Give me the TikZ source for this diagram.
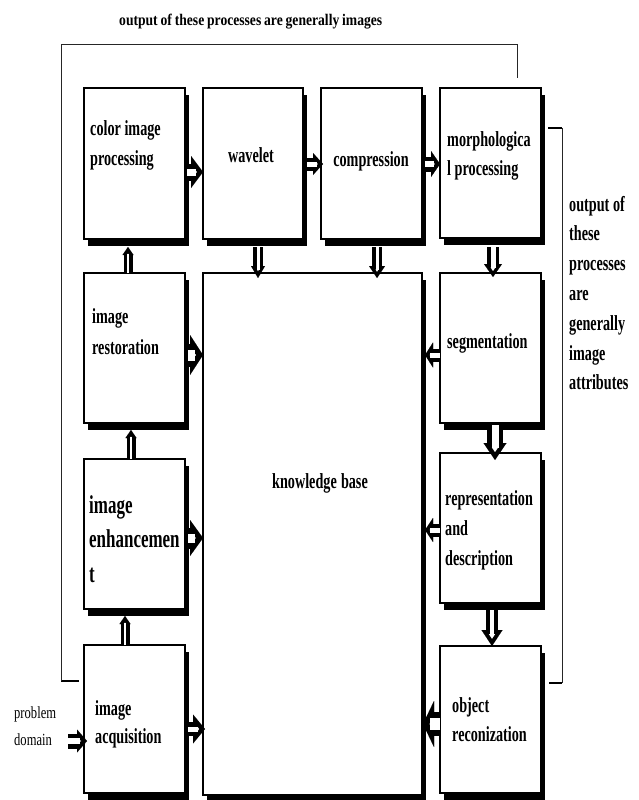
\documentclass[tikz,border=0pt]{standalone}
\usepackage{fontspec}
\setmainfont{Liberation Serif}
\newfontfamily\cnd[FakeStretch=0.66,WordSpace=0.66]{Liberation Serif}
\newfontfamily\cndtop[FakeStretch=0.84,WordSpace=0.84]{Liberation Serif}
\newfontfamily\cndreg[FakeStretch=0.74,WordSpace=0.74]{Liberation Serif}
\usetikzlibrary{arrows.meta,shadows,calc}

% block arrow: #1 shaft width, #2 head width, #3 head length, #4 border, #5 from, #6 to
\newcommand\blockarr[6]{%
  \pgfmathsetmacro\bkA{atan2(#2/2,#3)}%
  \pgfmathsetmacro\bkD{#4/sin(\bkA)}%
  \pgfmathsetmacro\bkL{max(#3-#4-\bkD,0.6)}%
  \pgfmathsetmacro\bkW{#2*\bkL/#3}%
  \pgfmathsetmacro\bkS{#1-2*#4}%
  \draw[black, line width=#1pt, -{Triangle[length=#3pt,width=#2pt,line width=0.01pt]}] #5 -- #6;
  \draw[white, line width=\bkS pt, shorten >=\bkD pt, -{Triangle[length=\bkL pt,width=\bkW pt,line width=0.01pt]}] #5 -- #6;
}

\begin{document}
\begin{tikzpicture}[x=1pt,y=-1pt,
  box/.style={draw=black, line width=1.3pt, fill=white, inner sep=0pt, outer sep=0pt,
    anchor=north west, drop shadow={shadow xshift=4pt, shadow yshift=-7pt, fill=black, opacity=1, draw=none}},
  txt/.style={font=\cnd\fontsize{21.5}{30}\selectfont\bfseries, inner sep=0pt, text width=112pt, anchor=base west,
    execute at begin node={\spaceskip=3.6pt\relax}},
  ctxt/.style={font=\cnd\fontsize{21.5}{30}\selectfont\bfseries, inner sep=0pt, anchor=base,
    execute at begin node={\spaceskip=4.2pt\relax}},
  fb/.style={draw=black!85, line width=1pt},
  stub/.style={draw=black, line width=2.2pt}]

\useasboundingbox (0,0) rectangle (638,800);
\fill[white] (0,0) rectangle (638,800);

% feedback lines
\coordinate (fbA) at (79,681);
\coordinate (fbZ) at (517,78);
\draw[stub] (fbA) -- (61,681);
\draw[fb] (61,681) -- (61,45) -- (517,45) -- (fbZ);
\coordinate (brA) at (548,128);
\coordinate (brZ) at (549,683);
\draw[stub] (brA) -- (562,128);
\draw[stub] (562,683) -- (brZ);
\draw[fb] (562,128) -- (562,683);

% boxes
\node[box, minimum width=101pt, minimum height=151pt] (cip) at (84,88) {};
\node[box, minimum width=100pt, minimum height=151pt] (wav) at (203,88) {};
\node[box, minimum width=101pt, minimum height=151pt] (cmp) at (321,88) {};
\node[box, minimum width=101pt, minimum height=150pt] (mor) at (440,88) {};
\node[box, minimum width=101pt, minimum height=150pt] (res) at (84,273) {};
\node[box, minimum width=219pt, minimum height=522pt] (kb) at (203,273) {};
\node[box, minimum width=101pt, minimum height=150pt] (seg) at (440,273) {};
\node[box, minimum width=101pt, minimum height=150pt] (enh) at (84,459) {};
\node[box, minimum width=101pt, minimum height=150pt] (rep) at (440,453) {};
\node[box, minimum width=101pt, minimum height=148pt] (acq) at (84,645) {};
\node[box, minimum width=101pt, minimum height=147pt] (obj) at (440,646) {};

% arrows
\blockarr{17}{32}{12}{5}{($(cip.east)+(2,8.5)$)}{($(wav.west)+(0,8.5)$)}
\blockarr{13}{22}{10}{4}{($(wav.east)+(4,0.5)$)}{($(cmp.west)+(2,0.5)$)}
\blockarr{15}{26}{9}{4.5}{($(cmp.east)+(3,0.5)$)}{($(mor.west)+(0,1)$)}
\blockarr{23}{40}{13}{6}{($(res.east)+(3,7)$)}{($(kb.west)+(0,-179)$)}
\blockarr{21}{36}{13}{6}{($(enh.east)+(3,4)$)}{($(kb.west)+(0,4)$)}
\blockarr{14}{29}{12}{4.5}{($(acq.east)+(3,10)$)}{($(kb.west)+(2,195)$)}
\coordinate (pd) at (68,741);
\blockarr{15}{23}{10}{4.5}{(pd)}{($(acq.west)+(3,22)$)}
\blockarr{13}{25}{8}{4}{($(seg.west)+(0,7)$)}{($(kb.east)+(3,-179)$)}
\blockarr{13}{24}{8}{4}{($(rep.west)+(0,2)$)}{($(kb.east)+(3,-4)$)}
\blockarr{24}{46}{11}{6}{($(obj.west)+(0,4.5)$)}{($(kb.east)+(1,190)$)}
\blockarr{10}{14}{12}{3.5}{($(wav.south)+(5,8)$)}{($(kb.north)+(-54.5,5)$)}
\blockarr{10}{16}{12}{3.5}{($(cmp.south)+(5.5,8)$)}{($(kb.north)+(64.5,5)$)}
\blockarr{12}{18}{13}{3.5}{($(mor.south)+(2.5,9)$)}{($(seg.north)+(2.5,4)$)}
\blockarr{16}{23}{17}{4.5}{($(seg.south)+(4.5,2)$)}{($(rep.north)+(4.5,7)$)}
\blockarr{12}{21}{16}{4}{($(rep.south)+(1.5,7)$)}{($(obj.north)+(1.5,0)$)}
\blockarr{9}{11}{8}{3.8}{($(res.north)+(-6.5,0)$)}{($(cip.south)+(-6.5,8)$)}
\blockarr{9}{11}{8}{3.8}{($(enh.north)+(-3.5,0)$)}{($(res.south)+(-3.5,7)$)}
\blockarr{9}{11}{8}{3.8}{($(acq.north)+(-9.5,0)$)}{($(enh.south)+(-9.5,7)$)}

% texts
\node[anchor=base west, inner sep=0pt, font=\cndtop\fontsize{16.2}{18}\selectfont\bfseries] (toplab) at (119,26) {output of these processes are generally images};
\node[txt] (tcip) at (90,135) {color image\\processing};
\node[ctxt] (twav) at (251,162) {wavelet};
\node[ctxt] (tcmp) at (371,166) {compression};
\node[txt, font=\cnd\fontsize{21.5}{29}\selectfont\bfseries] (tmor) at (447,146) {morphologica\\l processing};
\node[txt, font=\cnd\fontsize{21.5}{31}\selectfont\bfseries] (tres) at (92,323) {image\\restoration};
\node[txt, font=\cnd\fontsize{25.7}{34.5}\selectfont\bfseries] (tenh) at (89,513) {image\\enhancemen\\t};
\node[txt] (tseg) at (447,348) {segmentation};
\node[txt] (trep) at (445,505) {representation\\and\\description};
\node[txt, font=\cnd\fontsize{21.5}{29}\selectfont\bfseries] (tobj) at (452,712) {object\\reconization};
\node[txt, font=\cnd\fontsize{21.5}{28}\selectfont\bfseries] (tacq) at (95,715) {image\\acquisition};
\node[ctxt] (tkb) at (320,488) {knowledge base};
\node[txt, font=\cndreg\fontsize{17}{27}\selectfont, text width=60pt] (tprob) at (14,718) {problem\\domain};
\node[txt, text width=70pt, font=\cnd\fontsize{21.5}{29.8}\selectfont\bfseries] (tright) at (569,211) {output of\\these\\processes\\are\\generally\\image\\attributes};

\end{tikzpicture}
\end{document}
